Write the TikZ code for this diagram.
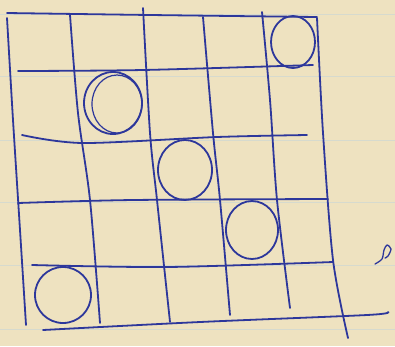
\documentclass[tikz,border=0pt]{standalone}
\begin{document}
\begin{tikzpicture}[x=1pt,y=-1pt,
  ink/.style={draw=inkblue,line width=1.8pt,line cap=round,line join=round},
  ruling/.style={draw=rulecol,line width=1pt}]
\definecolor{paper}{RGB}{238,226,192}
\definecolor{inkblue}{RGB}{45,55,155}
\definecolor{rulecol}{RGB}{214,218,206}
\fill[paper] (0,0) rectangle (395,346);
\useasboundingbox (0,0) rectangle (395,346);
% faint paper ruling
\foreach \y in {14,76,140,202,265,329} \draw[ruling] (0,\y) -- (395,\y);
% vertical lines
\draw[ink] plot[smooth] coordinates {(7,18) (13,120) (20,230) (26,325)};
\draw[ink] plot[smooth] coordinates {(70,15) (78,113) (90,200) (100,323)};
\draw[ink] plot[smooth] coordinates {(143,8) (150,133) (157,200) (170,322)};
\draw[ink] plot[smooth] coordinates {(203,17) (213,133) (220,200) (230,315)};
\draw[ink] plot[smooth] coordinates {(262,12) (270,100) (277,200) (290,308)};
\draw[ink] plot[smooth] coordinates {(317,18) (323,133) (333,260) (348,338)};
% horizontal lines
\draw[ink] plot[smooth] coordinates {(7,13) (150,15) (317,17)};
\draw[ink] plot[smooth] coordinates {(18,71) (143,70) (313,65)};
\draw[ink] plot[smooth] coordinates {(22,135) (83,143) (217,137) (307,135)};
\draw[ink] plot[smooth] coordinates {(18,203) (133,200) (328,199)};
\draw[ink] plot[smooth] coordinates {(32,265) (167,267) (333,262)};
\draw[ink] plot[smooth] coordinates {(43,330) (200,322) (367,315) (388,312)};
% circles
\draw[ink] (293,42) ellipse [x radius=22, y radius=26];
\draw[ink] (113,103) ellipse [x radius=29, y radius=31];
\draw[ink,line width=1.2pt] (117,104) ellipse [x radius=25, y radius=29];
\draw[ink] (185,170) ellipse [x radius=27, y radius=30];
\draw[ink] (252,230) ellipse [x radius=26, y radius=29];
\draw[ink] (63,295) ellipse [x radius=28, y radius=28];
% small mark at right
\draw[ink,line width=1.3pt] plot[smooth] coordinates {(375,264) (382,259) (384,250) (387,245) (391,249) (388,256) (385,258)};
\end{tikzpicture}
\end{document}
